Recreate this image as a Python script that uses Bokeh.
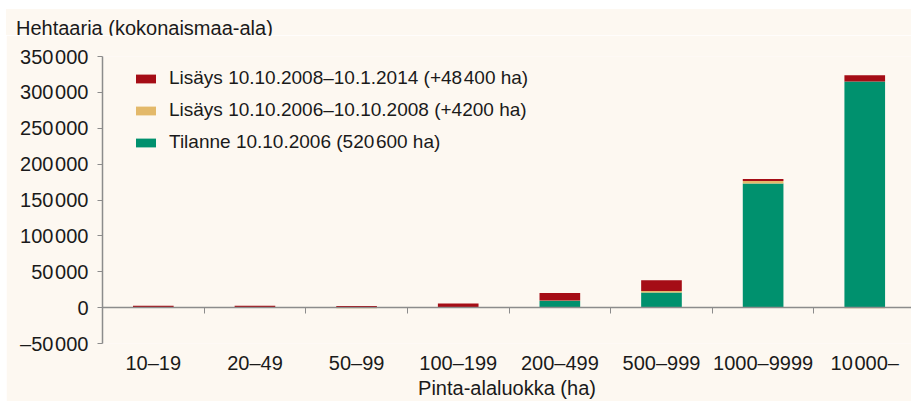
from bokeh.plotting import figure
from bokeh.models import (ColumnDataSource, Range1d, LinearAxis, FixedTicker, Legend,
                          LegendItem, Spacer, Div)
from bokeh.layouts import column, row
from bokeh.embed import file_html
from bokeh.resources import INLINE

# ---- data ----
categories = ["10\u201319", "20\u201349", "50\u201399", "100\u2013199", "200\u2013499",
              "500\u2013999", "1000\u20139999", "10\u200a000\u2013"]
tilanne_2006 = [400, 400, 500, 800, 9500, 21000, 173000, 315000]
lisays_2006_2008 = [100, 100, -1000, 200, 400, 2000, 3400, -1000]
lisays_2008_2014 = [2200, 2200, 1900, 4800, 10600, 15000, 2700, 9000]
y_ticks = [-50000, 0, 50000, 100000, 150000, 200000, 250000, 300000, 350000]
legend_labels = ["Lis\u00e4ys 10.10.2008\u201310.1.2014 (+48\u200a400 ha)",
                 "Lis\u00e4ys 10.10.2006\u201310.10.2008 (+4200 ha)",
                 "Tilanne 10.10.2006 (520\u200a600 ha)"]
y_title = "Hehtaaria (kokonaismaa-ala)"
x_title = "Pinta-alaluokka (ha)"

RED = "#A50D16"
YEL = "#E3B96A"
GRN = "#00916E"
BG = "#FDF8F1"
TXT = "#1A1A1A"
GRID = "#A3A3A3"
AX = "#8C8C8C"
FONT = "Liberation Sans"

def fmt(v):
    s = f"{abs(v):,}".replace(",", "\u200a")
    return ("\u2013" + s) if v < 0 else s

xs = [i + 0.5 for i in range(len(categories))]
y_bot = [g if y >= 0 else y for g, y in zip(tilanne_2006, lisays_2006_2008)]
y_top = [g + y if y >= 0 else 0 for g, y in zip(tilanne_2006, lisays_2006_2008)]
r_bot = [g + max(y, 0) for g, y in zip(tilanne_2006, lisays_2006_2008)]
r_top = [b + r for b, r in zip(r_bot, lisays_2008_2014)]

src = ColumnDataSource(dict(x=xs, g0=[0] * len(xs), g1=tilanne_2006, y0=y_bot, y1=y_top,
                            r0=r_bot, r1=r_top))

TITLE_H = 26
p = figure(width=905, height=392 - TITLE_H, output_backend="svg", toolbar_location=None,
           x_range=Range1d(0, 7.96), y_range=Range1d(-50000, 350000),
           min_border_left=96, min_border_right=0, min_border_top=47 - TITLE_H,
           min_border_bottom=58,
           background_fill_color=BG, border_fill_color=BG, outline_line_color=None,
           x_axis_type=None, y_axis_type=None)
p.title.text = ""

W = 0.40
rg = p.vbar(x="x", bottom="g0", top="g1", width=W, source=src, fill_color=GRN, line_color=None)
ry = p.vbar(x="x", bottom="y0", top="y1", width=W, source=src, fill_color=YEL, line_color=None)
rr = p.vbar(x="x", bottom="r0", top="r1", width=W, source=src, fill_color=RED, line_color=None)

# y axis
yax = LinearAxis(ticker=FixedTicker(ticks=y_ticks),
                 major_label_overrides={v: fmt(v) for v in y_ticks})
yax.axis_line_color = AX
yax.axis_line_width = 1.5
yax.major_tick_line_color = AX
yax.major_tick_out = 5
yax.major_tick_in = 0
yax.minor_tick_line_color = None
yax.major_label_standoff = 9
yax.major_label_text_font = FONT
yax.major_label_text_font_size = "20px"
yax.major_label_text_color = TXT
p.add_layout(yax, "left")

# zero line with category boundary ticks (pointing down)
bounds = list(range(1, len(categories)))
zax = LinearAxis(ticker=FixedTicker(ticks=bounds), fixed_location=0,
                 major_label_overrides={b: "" for b in bounds})
zax.axis_line_color = AX
zax.axis_line_width = 1.5
zax.major_tick_line_color = AX
zax.major_tick_out = 0
zax.major_tick_in = 6
zax.minor_tick_line_color = None
zax.major_label_standoff = 0
zax.major_label_text_font_size = "0px"
p.add_layout(zax, "above")

# category label axis
xax = LinearAxis(ticker=FixedTicker(ticks=xs),
                 major_label_overrides={x: c for x, c in zip(xs, categories)},
                 axis_label=x_title)
xax.axis_line_color = None
xax.major_tick_line_color = None
xax.minor_tick_line_color = None
xax.major_tick_out = 0
xax.major_tick_in = 0
xax.major_label_standoff = 8
xax.major_label_text_font = FONT
xax.major_label_text_font_size = "20px"
xax.major_label_text_color = TXT
xax.axis_label_standoff = 0
xax.axis_label_text_font = FONT
xax.axis_label_text_font_size = "20px"
xax.axis_label_text_font_style = "normal"
xax.axis_label_text_color = TXT
p.add_layout(xax, "below")

# grid
p.ygrid.ticker = FixedTicker(ticks=y_ticks)
p.ygrid.grid_line_color = GRID
p.ygrid.grid_line_width = 1
p.xgrid.grid_line_color = None

legend = Legend(items=[LegendItem(label=legend_labels[0], renderers=[rr]),
                       LegendItem(label=legend_labels[1], renderers=[ry]),
                       LegendItem(label=legend_labels[2], renderers=[rg])],
                location=(31, 190), padding=0, margin=0, spacing=10,
                glyph_width=25, glyph_height=11, label_standoff=11, label_height=22,
                border_line_color=None, background_fill_alpha=0,
                label_text_font=FONT, label_text_font_size="19px", label_text_color=TXT)
p.add_layout(legend, "center")

# y-axis unit title as a strip above the plot, same background
title_div = Div(
    text=(f'<div style="box-sizing:border-box;width:905px;height:{TITLE_H}px;'
          f'margin:0;padding:8px 0 0 10px;background:{BG};color:{TXT};'
          f'font-family:\'{FONT}\';font-size:20px;line-height:normal;'
          f'white-space:nowrap;overflow:visible;">{y_title}</div>'),
    width=905, height=TITLE_H, margin=0, styles={"background-color": BG})

page = column(Spacer(height=9, width=911),
              row(Spacer(width=6, height=392), column(title_div, p, spacing=0), spacing=0),
              spacing=0)
open("out.html", "w").write(file_html(page, INLINE))
